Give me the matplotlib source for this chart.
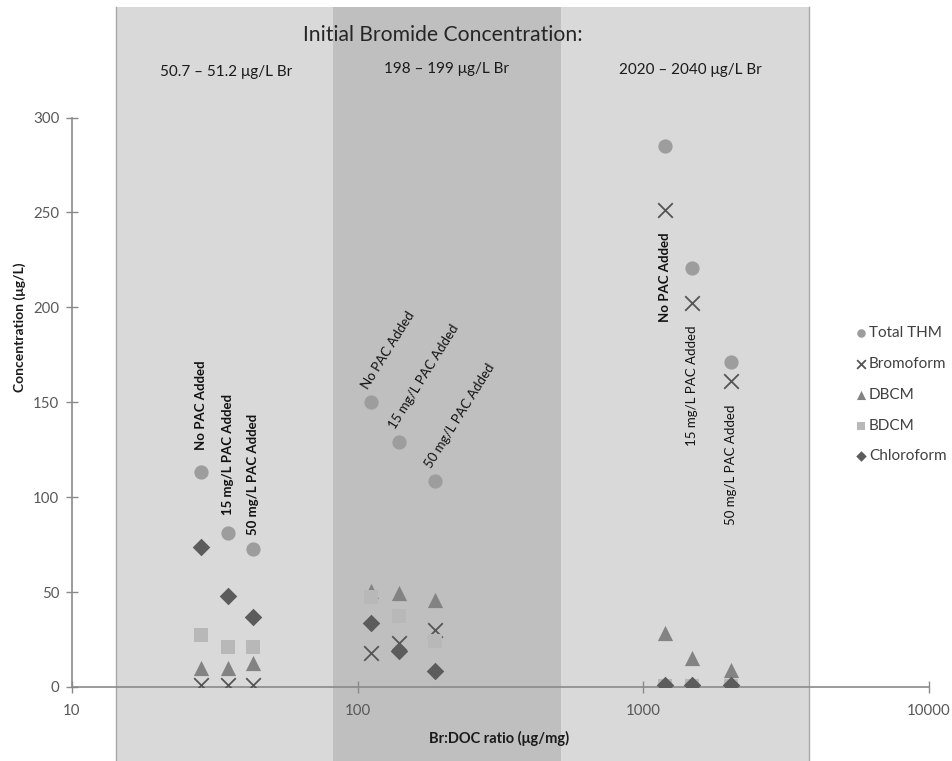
import matplotlib
matplotlib.use("Agg")
import matplotlib.pyplot as plt
from matplotlib.ticker import FixedLocator, FixedFormatter, NullLocator

plt.rcParams['font.family'] = ['Lato', 'DejaVu Sans']

# ---- data -------------------------------------------------------------
br_doc_ratio = [28.3, 35.3, 43.0, 111, 139, 186, 1190, 1480, 2020]
total_thm = [113.4, 81.0, 72.5, 150.3, 129.2, 108.5, 285.0, 220.5, 171.2]
bromoform = [1.0, 1.0, 1.0, 18.1, 23.0, 30.0, 251.4, 202.4, 161.0]
dbcm = [10.2, 10.0, 12.5, 50.5, 49.4, 45.8, 28.2, 15.5, 8.7]
bdcm = [27.4, 20.9, 20.9, 47.6, 37.4, 24.4, 0.5, 0.5, 0.5]
chloroform = [73.9, 48.1, 36.7, 33.9, 19.1, 8.4, 1.0, 1.0, 1.0]

pac_labels = ["No PAC Added", "15 mg/L PAC Added", "50 mg/L PAC Added"]
bromide_ranges = ["50.7 \u2013 51.2 \u03bcg/L Br", "198 \u2013 199 \u03bcg/L Br",
                  "2020 \u2013 2040 \u03bcg/L Br"]
# Br:DOC bands for each initial bromide level
band_edges = [14.2, 82.3, 515, 3800]

x_ticks = [10, 100, 1000, 10000]
x_tick_labels = ["10", "100", "1000", "10000"]
y_ticks = [0, 50, 100, 150, 200, 250, 300]
y_tick_labels = ["0", "50", "100", "150", "200", "250", "300"]

# ---- figure -------------------------------------------------------------
W, H = 953, 761
fig = plt.figure(figsize=(W / 100, H / 100), dpi=100)
fig.patch.set_facecolor("white")
ax = fig.add_axes([72 / W, 1 - 687 / H, (929 - 72) / W, (687 - 117.5) / H])
ax.patch.set_visible(False)
ax.set_xscale("log")
ax.set_xlim(10, 10000)
ax.set_ylim(0, 300)

# shaded bands (extend above and below the plotting area)
y_lo, y_hi = (687 - 761) / 569.5, (687 - 7) / 569.5
ax.axvspan(band_edges[0], band_edges[3], ymin=y_lo, ymax=y_hi, color="#d9d9d9",
           lw=0, zorder=0, clip_on=False)
ax.axvspan(band_edges[1], band_edges[2], ymin=y_lo, ymax=y_hi, color="#bfbfbf",
           lw=0, zorder=0.1, clip_on=False)
for xe in (band_edges[0], band_edges[3]):
    ax.axvline(xe, ymin=y_lo, ymax=y_hi, color="#a8a8a8", lw=1.0, zorder=0.2,
               clip_on=False)

# axes styling
for side in ("top", "right"):
    ax.spines[side].set_visible(False)
for side in ("left", "bottom"):
    ax.spines[side].set_color("#8a8a8a")
    ax.spines[side].set_linewidth(1.2)
ax.xaxis.set_major_locator(FixedLocator(x_ticks))
ax.xaxis.set_major_formatter(FixedFormatter(x_tick_labels))
ax.xaxis.set_minor_locator(NullLocator())
ax.yaxis.set_major_locator(FixedLocator(y_ticks))
ax.yaxis.set_major_formatter(FixedFormatter(y_tick_labels))
ax.tick_params(axis="both", direction="inout", length=9, width=1.0,
               color="#8a8a8a", labelsize=10.8, labelcolor="#595959")
ax.tick_params(axis="x", pad=7.5)
ax.tick_params(axis="y", pad=4.5)

# series (later series drawn on top)
ax.scatter(br_doc_ratio, total_thm, marker="o", s=105, color="#9d9d9d",
           linewidths=0, zorder=3, label="Total THM")
ax.scatter(br_doc_ratio, bromoform, marker="x", s=110, color="#555555",
           linewidths=1.3, zorder=4, label="Bromoform")
ax.scatter(br_doc_ratio, dbcm, marker="^", s=120, color="#838383",
           linewidths=0, zorder=5, label="DBCM")
ax.scatter(br_doc_ratio, bdcm, marker="s", s=95, color="#b8b8b8",
           linewidths=0, zorder=6, label="BDCM")
ax.scatter(br_doc_ratio, chloroform, marker="D", s=80, color="#5c5c5c",
           linewidths=0, zorder=7, label="Chloroform")

# PAC dose annotations
txt_color = "#111111"
ann_size = 9.5
g1_offsets = [22, 18, 14]
for i in range(3):
    ax.annotate(pac_labels[i], xy=(br_doc_ratio[i], total_thm[i]),
                xytext=(0, g1_offsets[i]), textcoords="offset pixels",
                rotation=90, rotation_mode="anchor", ha="left", va="center",
                fontsize=ann_size, fontweight="bold", color=txt_color, zorder=8)
for i in range(3, 6):
    ax.annotate(pac_labels[i - 3], xy=(br_doc_ratio[i], total_thm[i]),
                xytext=(-3, 12), textcoords="offset pixels",
                rotation=58, rotation_mode="anchor", ha="left", va="baseline",
                fontsize=ann_size, color=txt_color, zorder=8)
for i in range(6, 9):
    ax.annotate(pac_labels[i - 6], xy=(br_doc_ratio[i], bromoform[i]),
                xytext=(0, -23), textcoords="offset pixels",
                rotation=90, rotation_mode="anchor", ha="right", va="center",
                fontsize=ann_size, fontweight="bold" if i == 6 else "normal",
                color=txt_color, zorder=8)

# headings
fig.text(443 / W, 1 - 35 / H, "Initial Bromide Concentration:", ha="center",
         va="center", fontsize=15.2, color="#262626")
for xc, yc, lab in zip([226, 447, 690], [72, 69, 70], bromide_ranges):
    fig.text(xc / W, 1 - yc / H, lab, ha="center", va="center", fontsize=11,
             color="#1a1a1a")

# axis titles
fig.text(20 / W, 1 - 327 / H, "Concentration (\u03bcg/L)", rotation=90,
         ha="center", va="center", fontsize=10, fontweight="bold", color="#1a1a1a")
fig.text(499 / W, 1 - 738 / H, "Br:DOC ratio (\u03bcg/mg)", ha="center",
         va="center", fontsize=10.5, fontweight="bold", color="#1a1a1a")

# legend
leg = ax.legend(loc="upper left", bbox_to_anchor=(850 / W, 1 - 320 / H),
                bbox_transform=fig.transFigure, frameon=False, fontsize=11,
                markerscale=0.6, handlelength=0.6, handletextpad=0.25,
                labelspacing=1.1, borderaxespad=0)
for t in leg.get_texts():
    t.set_color("#404040")

fig.savefig("out.png", dpi=100, facecolor="white")
